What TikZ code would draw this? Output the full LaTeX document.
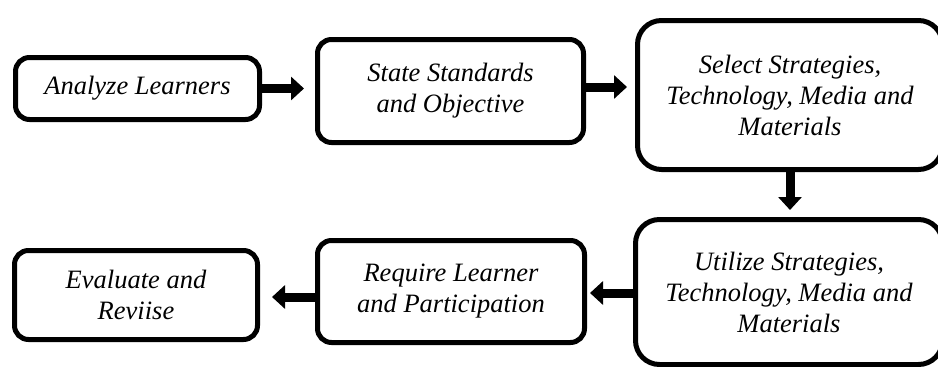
\documentclass[tikz,border=0pt]{standalone}
\usepackage{fontspec}
\setmainfont{Liberation Serif}
\usetikzlibrary{arrows.meta}
\newcommand{\boxline}{5pt}

\begin{document}
\begin{tikzpicture}[x=1pt,y=-1pt,
  stage/.style={draw, line width=\boxline, rounded corners=14pt, align=center,
    font=\fontsize{26.5}{31}\selectfont\itshape, inner sep=0pt},
  bigstage/.style={stage, rounded corners=24pt},
  flow/.style={line width=9pt, -{Triangle[length=13pt,width=23pt]}}]
\clip (0,0) rectangle (938,367);
    % Top row of the model
\node (learners) at (137.5,88.5) [stage, minimum width=244pt, minimum height=62pt] {Analyze Learners};
\node (standards) at (450.5,91) [stage, minimum width=266pt, minimum height=103pt] {State Standards\\and Objective};
\node (select) at (790,95) [bigstage, minimum width=305pt, minimum height=149pt] {Select Strategies,\\Technology, Media and\\Materials};
    % Bottom row, read right to left
\node (utilize) at (789,292) [bigstage, minimum width=307pt, minimum height=145pt] {Utilize Strategies,\\Technology, Media and\\Materials};
\node (require) at (451,291.5) [stage, minimum width=267pt, minimum height=102pt] {Require Learner\\and Participation};
\node (evaluate) at (136,295) [stage, minimum width=243pt, minimum height=89pt] {Evaluate and\\Reviise};

\draw[flow, shorten >=11pt] (learners.east) -- (learners.east -| standards.west);
\draw[flow, shorten >=8pt] (standards.east |- 0,87) -- (select.west |- 0,87);
\draw[flow, shorten >=7pt] (select.south) -- (utilize.north -| select.south);
\draw[flow, shorten >=3pt] (utilize.west |- 0,293) -- (require.east |- 0,293);
\draw[flow, shorten >=12pt] (require.west |- 0,297) -- (evaluate.east |- 0,297);

\end{tikzpicture}
\end{document}
